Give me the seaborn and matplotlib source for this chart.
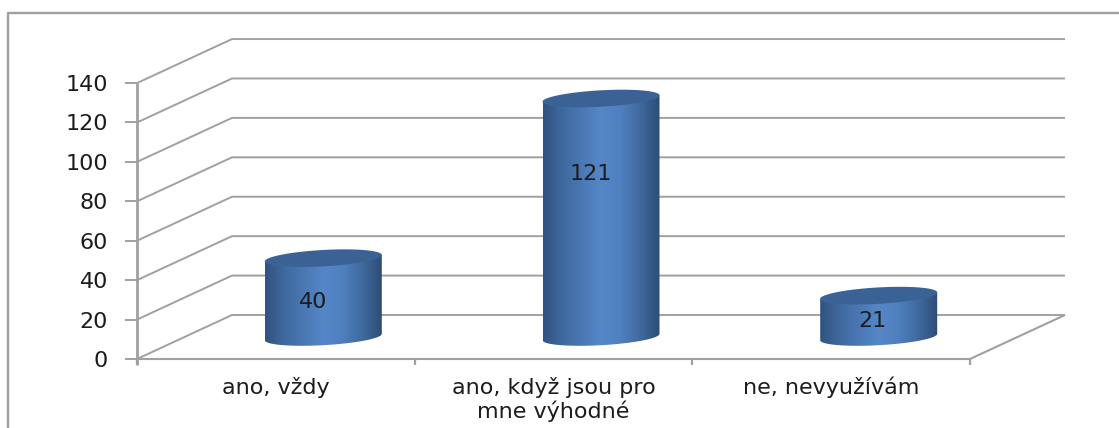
import numpy as np
import pandas as pd
import matplotlib
matplotlib.use("Agg")
import matplotlib.pyplot as plt
from matplotlib.colors import LinearSegmentedColormap
from matplotlib.patches import PathPatch
from matplotlib.path import Path
import seaborn as sns

# Survey answers and their counts
categories = ["ano, vždy", "ano, když jsou pro\nmne výhodné", "ne, nevyužívám"]
counts = [40, 121, 21]
gridlines = [0, 20, 40, 60, 80, 100, 120, 140]

# Pixel centres of the value labels on the cylinders
label_x_px = [313, 591, 872]
label_y_px = [300, 172, 319]

W, H = 1119, 428
PX_PER_UNIT = 1.971      # vertical pixels per count
PX_PER_CAT = 277.7       # horizontal pixels per category
X0_PX, Y0_PX = 601.0, 337.0   # where category 1, count 0 falls

sns.set_theme(style="white")
plt.rcParams["font.family"] = ["DejaVu Sans"]

fig = plt.figure(figsize=(W / 100, H / 100), dpi=100, facecolor="white")
ax = fig.add_axes([0, 0, 1, 1])

df = pd.DataFrame({"answer": categories, "count": counts})
sns.barplot(data=df, x="answer", y="count", order=categories, width=117 / PX_PER_CAT,
            color="#4f81bd", saturation=1, ax=ax, zorder=3)

xlim = ((0 - X0_PX) / PX_PER_CAT + 1, (W - X0_PX) / PX_PER_CAT + 1)
ylim = ((Y0_PX - H) / PX_PER_UNIT, Y0_PX / PX_PER_UNIT)
ax.set_xlim(xlim)
ax.set_ylim(ylim)
ax.set_axis_off()


def px(x_pixel):
    return (x_pixel - X0_PX) / PX_PER_CAT + 1


def py(y_pixel):
    return (Y0_PX - y_pixel) / PX_PER_UNIT


GREY = "#a0a0a0"
TEXT = "#1c1c1c"
FONT_SIZE = 16
LW = 1.4
FRONT_L, BACK_L, BACK_R, FRONT_R = 137, 232, 1065, 970
FRONT_OFFSET = 359 - Y0_PX
BACK_OFFSET = 315 - Y0_PX


def line(xs, ys, lw=LW, z=1):
    ax.plot(xs, ys, color=GREY, lw=lw, zorder=z, solid_capstyle="butt", clip_on=False)


# Outer chart frame (open at the bottom and right)
line([px(7.5), px(7.5), px(W)], [py(H), py(12.5), py(12.5)], lw=1.7)

# Walls, floor and gridlines of the box
for v in gridlines:
    front = v - FRONT_OFFSET / PX_PER_UNIT
    back = v - BACK_OFFSET / PX_PER_UNIT
    line([px(FRONT_L), px(BACK_L), px(BACK_R)], [front, back, back])
    line([px(125), px(FRONT_L)], [front, front])
    ax.text(px(108), front, str(v), ha="right", va="center_baseline", fontsize=FONT_SIZE,
            color=TEXT)

floor_front = -FRONT_OFFSET / PX_PER_UNIT
floor_back = -BACK_OFFSET / PX_PER_UNIT
line([px(BACK_R), px(FRONT_R), px(FRONT_L)], [floor_back, floor_front, floor_front], lw=1.5)
line([px(FRONT_L), px(FRONT_L)], [py(83), py(365)], lw=2.0, z=2)
for tick_px in (FRONT_L, 415, 692, FRONT_R):
    line([px(tick_px), px(tick_px)], [py(359), py(365)], lw=1.6)

# Cylinders: each seaborn bar is replaced by a shaded body and a tilted cap
side_cmap = LinearSegmentedColormap.from_list(
    "side", ["#31527f", "#3f6a9f", "#4a78b4", "#5587c8", "#4f7fbe", "#406a9e", "#2e4c75"])
CAP_B = 8.2 / PX_PER_UNIT
CAP_S = 3.2 / PX_PER_UNIT
t = np.linspace(0, 2 * np.pi, 121)
gradient = np.linspace(0, 1, 256)[None, :]

for patch, value, lx, ly in zip(list(ax.patches), counts, label_x_px, label_y_px):
    x_left = patch.get_x()
    width = patch.get_width()
    patch.set_visible(False)
    cx = x_left + width / 2
    half = width / 2

    # outline: top edge straight across, bottom edge along the lower half of the base ellipse
    lower = np.linspace(np.pi, 0, 60)
    base_x = cx + half * np.cos(lower)
    base_y = -CAP_B * np.sin(lower) + CAP_S * np.cos(lower)
    outline = np.column_stack([
        np.r_[x_left, base_x, x_left + width],
        np.r_[value - CAP_S, base_y, value + CAP_S],
    ])
    body_path = Path(np.vstack([outline, outline[0]]), closed=True)
    body_clip = PathPatch(body_path, transform=ax.transData, facecolor="none", edgecolor="none")
    ax.add_patch(body_clip)
    im = ax.imshow(gradient, cmap=side_cmap, aspect="auto", zorder=3, interpolation="bilinear",
                   extent=(x_left, x_left + width, -CAP_B - CAP_S - 1, value + CAP_B + CAP_S))
    im.set_clip_path(body_clip)

    ax.fill(cx + half * np.cos(t), value + CAP_B * np.sin(t) + CAP_S * np.cos(t),
            color="#3b6294", lw=0, zorder=4)
    ax.text(px(lx), py(ly), str(value), ha="center", va="center_baseline",
            fontsize=FONT_SIZE, color=TEXT, zorder=5)

ax.set_xlim(xlim)
ax.set_ylim(ylim)

# Category labels under the floor
for x_center_px, label in zip((276, 553.5, 831), categories):
    ax.text(px(x_center_px), py(377), label, ha="center", va="top", fontsize=FONT_SIZE,
            color=TEXT, linespacing=1.12)

fig.savefig("out.png", dpi=100, facecolor="white")
